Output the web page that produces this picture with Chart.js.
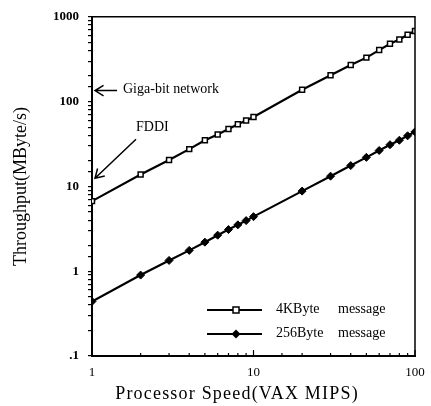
<!DOCTYPE html>
<html>
<head>
<meta charset="utf-8">
<script src="https://cdn.jsdelivr.net/npm/chart.js"></script>
<style>
  html, body { margin: 0; padding: 0; background: #fff; }
  #chart { display: block; }
</style>
</head>
<body>
<canvas id="chart" width="431" height="406"></canvas>
<script>
// Processor speed (VAX MIPS)
const speeds = [1, 2, 3, 4, 5, 6, 7, 8, 9, 10, 20, 30, 40, 50, 60, 70, 80, 90, 100];
// Throughput (MByte/s)
const msg4k = [6.7, 13.8, 20.5, 27.5, 35, 41, 47.5, 54, 60, 66, 138, 205, 270, 330, 405, 480, 540, 615, 680];
const msg256 = [0.44, 0.9, 1.34, 1.76, 2.2, 2.66, 3.1, 3.52, 3.95, 4.4, 8.8, 13.2, 17.6, 22, 26.5, 31, 35, 39.5, 44];
const seriesNames = ['4KByte    message', '256Byte    message'];
const xLabels = { 1: '1', 10: '10', 100: '100' };
const yLabels = { 0.1: '.1', 1: '1', 10: '10', 100: '100', 1000: '1000' };
// annotation targets on the y axis
const gigabit = 135;
const fddi = 12.5;

const serif = '"Liberation Serif", "DejaVu Serif", serif';

function labelFor(map, v) {
    for (const k in map) {
        if (Math.abs(Math.log10(v) - Math.log10(+k)) < 1e-6) return map[k];
    }
    return '';
}

function arrow(ctx, x1, y1, x2, y2) {
    // line from (x1,y1) to head at (x2,y2)
    const a = Math.atan2(y2 - y1, x2 - x1);
    ctx.beginPath();
    ctx.moveTo(x1, y1);
    ctx.lineTo(x2, y2);
    ctx.moveTo(x2 - 10 * Math.cos(a - 0.55), y2 - 10 * Math.sin(a - 0.55));
    ctx.lineTo(x2, y2);
    ctx.lineTo(x2 - 10 * Math.cos(a + 0.55), y2 - 10 * Math.sin(a + 0.55));
    ctx.stroke();
}

const extras = {
    id: 'extras',
    afterDraw(chart) {
        const ctx = chart.ctx;
        const area = chart.chartArea;
        const xs = chart.scales.x, ys = chart.scales.y;
        ctx.save();
        ctx.strokeStyle = '#000';
        ctx.fillStyle = '#000';

        // top and right frame
        ctx.lineWidth = 1.5;
        ctx.beginPath();
        ctx.moveTo(area.left, area.top);
        ctx.lineTo(area.right, area.top);
        ctx.lineTo(area.right, area.bottom);
        ctx.stroke();

        // inward ticks on the x axis
        ctx.lineWidth = 1.2;
        xs.ticks.forEach(t => {
            const px = xs.getPixelForValue(t.value);
            const len = labelFor(xLabels, t.value) ? 6 : 3;
            ctx.beginPath();
            ctx.moveTo(px, area.bottom);
            ctx.lineTo(px, area.bottom - len);
            ctx.stroke();
        });

        // x axis title, slightly left of centre and letter-spaced like the scan
        ctx.font = '18px ' + serif;
        ctx.letterSpacing = '1.2px';
        ctx.textAlign = 'center';
        ctx.textBaseline = 'middle';
        ctx.fillText('Processor Speed(VAX MIPS)', 237, 394);
        ctx.letterSpacing = '0px';

        // annotations
        const x0 = xs.getPixelForValue(1) + 3;
        const gy = ys.getPixelForValue(gigabit);
        const fy = ys.getPixelForValue(fddi);
        ctx.lineWidth = 1.5;
        arrow(ctx, x0 + 22, gy, x0, gy);
        arrow(ctx, x0 + 41, fy - 39, x0, fy);
        ctx.font = '14px ' + serif;
        ctx.textAlign = 'left';
        ctx.fillText('Giga-bit network', x0 + 28, gy - 1);
        ctx.fillText('FDDI', x0 + 41, fy - 51);

        // legend
        const lx1 = 207, lx2 = 262, tx = 276;
        const rows = [310, 334];
        ctx.lineWidth = 2;
        rows.forEach((ry, i) => {
            ctx.beginPath();
            ctx.moveTo(lx1, ry);
            ctx.lineTo(lx2, ry);
            ctx.stroke();
            const mx = 236;
            if (i === 0) {
                ctx.fillStyle = '#fff';
                ctx.fillRect(mx - 3, ry - 3, 6, 6);
                ctx.lineWidth = 1.5;
                ctx.strokeRect(mx - 3, ry - 3, 6, 6);
                ctx.lineWidth = 2;
            } else {
                ctx.fillStyle = '#000';
                ctx.beginPath();
                ctx.moveTo(mx, ry - 4.5);
                ctx.lineTo(mx + 4.5, ry);
                ctx.lineTo(mx, ry + 4.5);
                ctx.lineTo(mx - 4.5, ry);
                ctx.closePath();
                ctx.fill();
            }
            ctx.fillStyle = '#000';
            ctx.font = '14px ' + serif;
            ctx.textBaseline = 'middle';
            ctx.fillText(seriesNames[i].split(/\s+/)[0], tx, ry - 1);
            ctx.fillText(seriesNames[i].split(/\s+/)[1], tx + 62, ry - 1);
        });
        ctx.restore();
    }
};

new Chart(document.getElementById('chart'), {
    type: 'line',
    data: {
        datasets: [
            {
                label: seriesNames[0],
                data: speeds.map((s, i) => ({ x: s, y: msg4k[i] })),
                borderColor: '#000',
                borderWidth: 2.2,
                pointStyle: 'rect',
                pointRadius: 3.5,
                pointBackgroundColor: '#fff',
                pointBorderColor: '#000',
                pointBorderWidth: 1.5,
                tension: 0
            },
            {
                label: seriesNames[1],
                data: speeds.map((s, i) => ({ x: s, y: msg256[i] })),
                borderColor: '#000',
                borderWidth: 2.2,
                pointStyle: 'rectRot',
                pointRadius: 4,
                pointBackgroundColor: '#000',
                pointBorderColor: '#000',
                pointBorderWidth: 1,
                tension: 0
            }
        ]
    },
    options: {
        responsive: false,
        animation: false,
        events: [],
        layout: { padding: { top: 15, right: 16, left: 0, bottom: 0 } },
        plugins: { legend: { display: false }, tooltip: { enabled: false } },
        scales: {
            x: {
                type: 'logarithmic',
                min: 1,
                max: 100,
                afterFit: s => { s.height = 50; },
                border: { display: true, color: '#000', width: 2 },
                grid: { display: false },
                ticks: {
                    autoSkip: false,
                    maxRotation: 0,
                    padding: 1,
                    color: '#000',
                    font: { family: serif, size: 13 },
                    callback: v => labelFor(xLabels, v)
                }
            },
            y: {
                type: 'logarithmic',
                min: 0.1,
                max: 1000,
                afterFit: s => { s.width = 92; },
                border: { display: true, color: '#000', width: 2 },
                grid: {
                    drawOnChartArea: false,
                    color: '#000',
                    lineWidth: 1.2,
                    tickLength: 4
                },
                ticks: {
                    autoSkip: false,
                    padding: 9,
                    color: '#000',
                    font: { family: serif, size: 13, weight: 'bold' },
                    callback: v => labelFor(yLabels, v)
                },
                title: {
                    display: true,
                    text: 'Throughput(MByte/s)',
                    color: '#000',
                    font: { family: serif, size: 18 },
                    padding: { top: 10, bottom: 0 }
                }
            }
        }
    },
    plugins: [extras]
});
</script>
</body>
</html>
